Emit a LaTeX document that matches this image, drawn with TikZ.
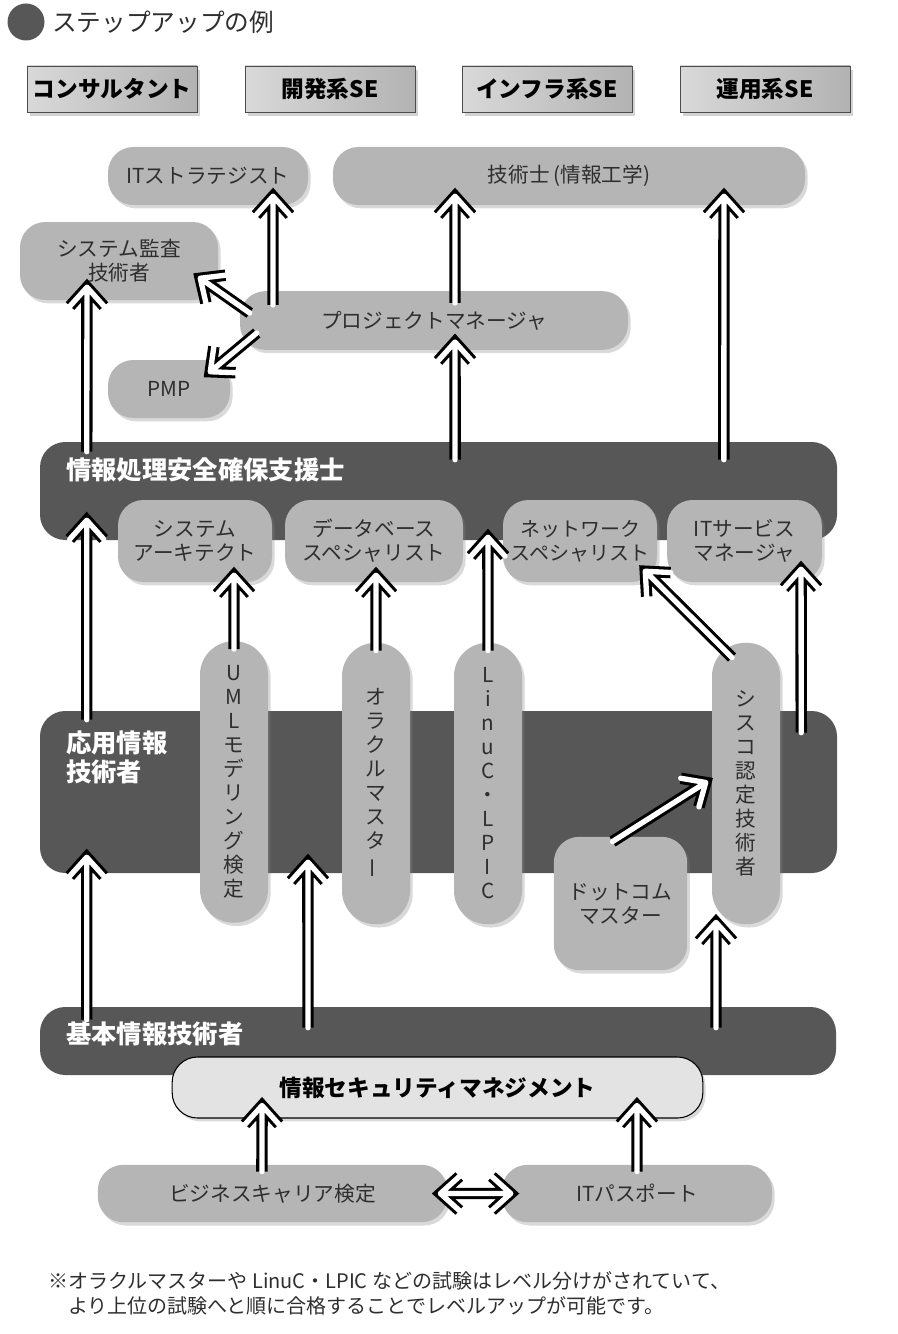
\documentclass[tikz,border=0pt]{standalone}
\usepackage{fontspec}
\setmainfont{Noto Sans CJK JP}
\usetikzlibrary{calc,shadows}
\definecolor{pillgray}{HTML}{B5B5B5}
\definecolor{bandgray}{HTML}{575757}
\definecolor{ismfill}{HTML}{E3E3E3}
\definecolor{inkgray}{HTML}{2E2E2E}
\tikzset{
	pill/.style={rectangle, rounded corners=19pt, fill=pillgray, text=inkgray, inner sep=0pt, align=center,
		font=\fontsize{15.5}{18}\selectfont, drop shadow={opacity=0.3, shadow xshift=2pt, shadow yshift=-2.5pt}},
	vpill/.style={pill, rounded corners=25pt, minimum width=51pt, minimum height=211pt, font=\fontsize{15.5}{18}\selectfont},
	band/.style={rectangle, rounded corners=19pt, fill=bandgray, inner sep=0pt, minimum width=597.75pt},
	bandtext/.style={text=white, inner sep=0pt, align=left, font=\bfseries\fontsize{19}{21.75}\selectfont},
	hdr/.style={rectangle, draw=black!70, line width=0.6pt, left color=gray!30, middle color=white, right color=gray!60,
		minimum width=127.5pt, minimum height=34.5pt, font=\bfseries\fontsize{17}{19}\selectfont,
		drop shadow={opacity=0.35, shadow xshift=2pt, shadow yshift=-3pt}},
	hollow/.style={draw=white, line width=4pt, line cap=round, line join=round,
		preaction={draw=black, line width=8.6pt}}
}
% white arrow with open chevron head: start, tip
\newcommand{\steparrow}[2]{%
	\draw[hollow] (#1) -- (#2)
		($(#2)!19pt!42:(#1)$) -- (#2) -- ($(#2)!19pt!-42:(#1)$);}
\begin{document}
\begin{tikzpicture}[x=0.75pt, y=-0.75pt]
		\useasboundingbox (0,0) rectangle (898,1334);
		% title
		\node [circle, fill=bandgray, minimum size=27.75pt, inner sep=0pt] (dot) at (26,22) {};
		\node [anchor=west, text=inkgray, inner sep=0pt, font=\fontsize{18.5}{20}\selectfont] (title) at (52,22) {ステップアップの例};
		% headers
		\node [hdr] (consult) at (112,89) {コンサルタント};
		\node [hdr] (devse) at (330,89) {開発系SE};
		\node [hdr] (infrase) at (547,89) {インフラ系SE};
		\node [hdr] (opse) at (765,89) {運用系SE};
		% top level
		\node [pill, minimum width=150pt, minimum height=43.5pt] (its) at (208,176) {ITストラテジスト};
		\node [pill, minimum width=354pt, minimum height=43.5pt] (pe) at (569,176) {技術士\,(情報工学)};
		\node [pill, minimum width=148.5pt, minimum height=58.5pt] (audit) at (119,261) {システム監査\\技術者};
		\node [pill, minimum width=291pt, minimum height=44pt] (pm) at (434,320.5) {プロジェクトマネージャ};
		\node [pill, minimum width=91.5pt, minimum height=43.5pt] (pmp) at (169,389) {PMP};
		% bands
		\node [band, minimum height=73.5pt] (sec) at (438.5,491) {};
		\node [bandtext, anchor=west] (sectext) at (66,470) {情報処理安全確保支援士};
		\node [band, minimum height=121.5pt] (app) at (438.5,792) {};
		\node [bandtext, anchor=north west] (apptext) at (66,731) {応用情報\\技術者};
		\node [band, minimum height=51pt, minimum width=597pt] (basic) at (438,1041) {};
		\node [bandtext, anchor=west] (basictext) at (66,1034) {基本情報技術者};
		% specialists
		\node [pill, minimum width=115.5pt, minimum height=61.5pt] (sa) at (195,541) {システム\\アーキテクト};
		\node [pill, minimum width=133.5pt, minimum height=61.5pt] (db) at (374,541) {データベース\\スペシャリスト};
		\node [pill, minimum width=115.5pt, minimum height=61.5pt, font=\fontsize{15}{18}\selectfont] (nw) at (580,541) {ネットワーク\\スペシャリスト};
		\node [pill, minimum width=116pt, minimum height=61.5pt] (itsm) at (744.5,541) {ITサービス\\マネージャ};
		% vendor exams
		\node [vpill] (uml) at (234,782) {U\\M\\L\\モ\\デ\\リ\\ン\\グ\\検\\定};
		\node [vpill] (oracle) at (376,783.5) {オ\\ラ\\ク\\ル\\マ\\ス\\タ\\\rotatebox[origin=c]{90}{ー}};
		\node [vpill] (linuc) at (488,783.5) {L\\i\\n\\u\\C\\・\\L\\P\\I\\C};
		\node [vpill] (cisco) at (746,783.5) {シ\\ス\\コ\\認\\定\\技\\術\\者};
		\node [pill, minimum width=100pt, minimum height=100pt] (dotcom) at (620.5,903.5) {ドットコム\\マスター};
		% entry level
		\node [pill, fill=ismfill, draw=black, line width=0.8pt, text=black, minimum width=398pt, minimum height=45.75pt,
			font=\bfseries\fontsize{17}{20}\selectfont] (ism) at (437.5,1087.5) {情報セキュリティマネジメント};
		\node [pill, minimum width=262pt, minimum height=43pt] (bcs) at (272.5,1193.5) {ビジネスキャリア検定};
		\node [pill, minimum width=202.5pt, minimum height=43pt] (itp) at (637,1193.5) {ITパスポート};
		% note
		\node [anchor=north west, align=left, text=inkgray, inner sep=0pt, font=\fontsize{15}{19}\selectfont] (note) at (48,1271)
			{※オラクルマスターや LinuC・LPIC などの試験はレベル分けがされていて、\\\hspace*{1em}より上位の試験へと順に合格することでレベルアップが可能です。};
		% arrows
		\steparrow{[xshift=-120.75pt,yshift=-10.5pt]pm.north}{[xshift=48.75pt,yshift=6.75pt]its.south}
		\steparrow{[xshift=15.75pt,yshift=-9pt]pm.north}{[xshift=-85.5pt,yshift=6.75pt]pe.south}
		\steparrow{[xshift=12.4pt,yshift=-13.5pt]sec.north}{[xshift=15.75pt,yshift=6pt]pm.south}
		\steparrow{[xshift=214pt,yshift=-13.5pt]sec.north}{[xshift=116.25pt,yshift=6.75pt]pe.south}
		\steparrow{[xshift=35.25pt,yshift=-7.5pt]sec.north west}{[xshift=-24pt,yshift=9.75pt]audit.south}
		\steparrow{[xshift=7.5pt,yshift=5.6pt]pm.west}{[xshift=-13.5pt,yshift=16.5pt]audit.south east}
		\steparrow{[xshift=12.75pt,yshift=-9.4pt]pm.west}{[xshift=-15pt,yshift=-9pt]pmp.north east}
		\steparrow{[xshift=35.25pt,yshift=-6.75pt]app.north west}{[xshift=35.25pt,yshift=15pt]sec.south west}
		\steparrow{[yshift=-6pt]uml.north}{[xshift=29.25pt,yshift=5.25pt]sa.south}
		\steparrow{[yshift=-6pt]oracle.north}{[xshift=1.5pt,yshift=5.25pt]db.south}
		\steparrow{[yshift=-6pt]linuc.north}{[xshift=37.1pt,yshift=2.25pt]sec.south}
		\steparrow{[xshift=-10.5pt,yshift=-11.25pt]cisco.north}{[xshift=-9pt,yshift=8.25pt]nw.south east}
		\steparrow{[xshift=-27pt,yshift=-16.5pt]app.north east}{[xshift=42.4pt,yshift=9.75pt]itsm.south}
		\steparrow{[xshift=-6pt,yshift=-3.75pt]dotcom.north}{[xshift=-4.5pt,yshift=0.75pt]cisco.west}
		\steparrow{[xshift=35.25pt,yshift=-9.75pt]basic.north west}{[xshift=35.25pt,yshift=12pt]app.south west}
		\steparrow{[xshift=-97.5pt,yshift=-15.75pt]basic.north}{[xshift=-97.9pt,yshift=8.25pt]app.south}
		\steparrow{[xshift=208.5pt,yshift=-15.75pt]basic.north}{[xshift=-22.5pt,yshift=1.5pt]cisco.south}
		\steparrow{[xshift=-7.9pt,yshift=-5.25pt]bcs.north}{[xshift=-131.6pt,yshift=9.75pt]ism.south}
		\steparrow{[yshift=-5.25pt]itp.north}{[xshift=149.6pt,yshift=9.75pt]ism.south}
		\coordinate (bl) at ([xshift=-5.25pt]bcs.east);
		\coordinate (br) at ([xshift=6.75pt]itp.west);
		\draw [hollow] (bl) -- (br)
			($(bl)!19pt!42:(br)$) -- (bl) -- ($(bl)!19pt!-42:(br)$)
			($(br)!19pt!42:(bl)$) -- (br) -- ($(br)!19pt!-42:(bl)$);
\end{tikzpicture}
\end{document}
